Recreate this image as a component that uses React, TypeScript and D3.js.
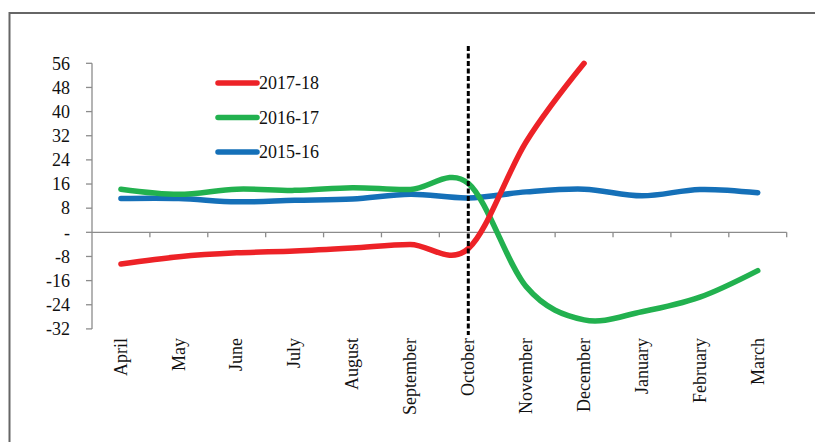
import { useEffect, useRef } from 'react';
import * as d3 from 'd3';

const MONTHS = ['April', 'May', 'June', 'July', 'August', 'September', 'October', 'November', 'December', 'January', 'February', 'March'];

const FY_2017_18 = [-10.5, -8.1, -6.8, -6.2, -5.2, -4.0, -5.4, 30, 56];
const FY_2016_17 = [14.3, 12.6, 14.3, 13.9, 14.8, 14.2, 16.2, -18, -29, -26.3, -21.5, -12.7];
const FY_2015_16 = [11.2, 11.2, 10.1, 10.6, 11.0, 12.6, 11.4, 13.4, 14.3, 12.1, 14.2, 13.1];

const Y_TICKS = [-32, -24, -16, -8, 0, 8, 16, 24, 32, 40, 48, 56];

const SERIES = [
  { name: '2017-18', values: FY_2017_18, color: '#ED2227' },
  { name: '2016-17', values: FY_2016_17, color: '#22B14F' },
  { name: '2015-16', values: FY_2015_16, color: '#1570B8' },
];

const FONT = '"Liberation Serif", "DejaVu Serif", serif';

export default function App() {
  const svgRef = useRef<SVGSVGElement>(null);

  useEffect(() => {
    if (!svgRef.current) return;
    const svg = d3.select(svgRef.current);
    svg.selectAll('*').remove();

    const W = 815, H = 442;
    const left = 92, right = 786.7, top = 63.3, bottom = 328.9;

    // outer frame (only top and left edges are in view)
    svg.append('rect')
      .attr('x', 9.5).attr('y', 13)
      .attr('width', W + 20).attr('height', H + 20)
      .attr('fill', 'none').attr('stroke', '#666').attr('stroke-width', 2);

    const band = d3.scaleBand<string>().domain(MONTHS).range([left, right]);
    const x = (m: string) => (band(m) ?? 0) + band.bandwidth() / 2;
    const y = d3.scaleLinear().domain([-32, 56]).range([bottom, top]);

    const axisColor = '#8c8c8c';

    // y axis
    svg.append('line')
      .attr('x1', left).attr('x2', left).attr('y1', y(56)).attr('y2', y(-32))
      .attr('stroke', axisColor).attr('stroke-width', 1.3);
    Y_TICKS.forEach((t) => {
      svg.append('line')
        .attr('x1', left - 6).attr('x2', left).attr('y1', y(t)).attr('y2', y(t))
        .attr('stroke', axisColor).attr('stroke-width', 1.3);
      svg.append('text')
        .attr('x', 70).attr('y', y(t)).attr('dy', '0.35em')
        .attr('text-anchor', 'end')
        .attr('font-family', FONT).attr('font-size', 18).attr('fill', '#111')
        .text(t === 0 ? '-' : String(t));
    });

    // x axis at zero
    const y0 = y(0);
    svg.append('line')
      .attr('x1', left).attr('x2', right).attr('y1', y0).attr('y2', y0)
      .attr('stroke', axisColor).attr('stroke-width', 1.3);
    const edges = MONTHS.map((m) => band(m) ?? 0).concat([right]);
    edges.slice(1).forEach((ex) => {
      svg.append('line')
        .attr('x1', ex).attr('x2', ex).attr('y1', y0).attr('y2', y0 + 5)
        .attr('stroke', axisColor).attr('stroke-width', 1.3);
    });

    MONTHS.forEach((m) => {
      svg.append('text')
        .attr('transform', `translate(${x(m)},${338}) rotate(-90)`)
        .attr('dy', '0.32em')
        .attr('text-anchor', 'end')
        .attr('font-family', FONT).attr('font-size', 18).attr('fill', '#111')
        .text(m);
    });

    // series lines
    const line = d3.line<number>()
      .x((_, i) => x(MONTHS[i]))
      .y((d) => y(d))
      .curve(d3.curveCardinal.tension(0));

    [...SERIES].reverse().forEach((s) => {
      svg.append('path')
        .attr('d', line(s.values))
        .attr('fill', 'none')
        .attr('stroke', s.color)
        .attr('stroke-width', 5.5)
        .attr('stroke-linecap', 'round')
        .attr('stroke-linejoin', 'round');
    });

    // October marker
    const ox = x('October');
    svg.append('line')
      .attr('x1', ox).attr('x2', ox).attr('y1', 46).attr('y2', 335)
      .attr('stroke', '#000').attr('stroke-width', 3)
      .attr('stroke-dasharray', '5,2.5');

    // legend
    SERIES.forEach((s, i) => {
      const ly = 83 + i * 34.5;
      svg.append('line')
        .attr('x1', 218).attr('x2', 257).attr('y1', ly).attr('y2', ly)
        .attr('stroke', s.color).attr('stroke-width', 5.5)
        .attr('stroke-linecap', 'round');
      svg.append('text')
        .attr('x', 259).attr('y', ly).attr('dy', '0.35em')
        .attr('font-family', FONT).attr('font-size', 18).attr('fill', '#111')
        .text(s.name);
    });
  }, []);

  return (
    <svg
      ref={svgRef}
      width={815}
      height={442}
      style={{ position: 'absolute', left: 0, top: 0, background: '#fff' }}
    />
  );
}
